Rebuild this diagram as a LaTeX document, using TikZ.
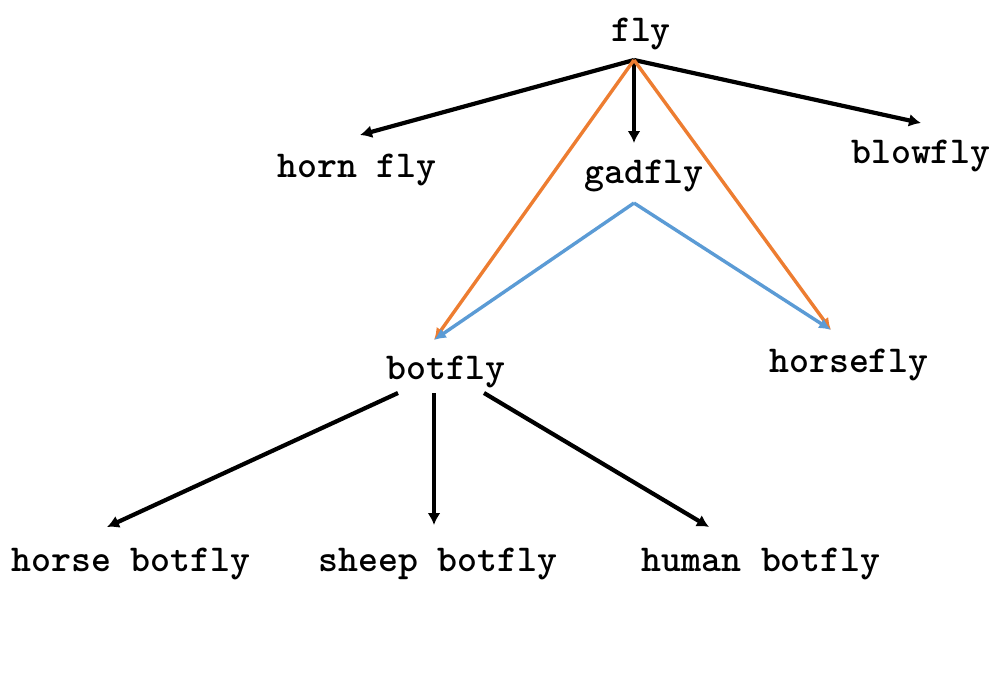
\documentclass[tikz,border=0pt]{standalone}
\usetikzlibrary{arrows.meta}
\definecolor{orangeC}{RGB}{237,125,49}
\definecolor{blueC}{RGB}{91,155,213}
\begin{document}
\begin{tikzpicture}[x=0.5pt,y=-0.5pt,
  lbl/.style={font=\fontsize{19}{22}\selectfont\ttfamily\bfseries, inner sep=0pt, anchor=center},
  blk/.style={line width=2.1pt, -{Latex[length=6pt,width=6.5pt]}},
  orng/.style={draw=orangeC, line width=1.7pt, -{Latex[length=6pt,width=5.5pt]}},
  blu/.style={draw=blueC, line width=1.7pt, -{Latex[length=6pt,width=5.5pt]}}]
\useasboundingbox (0,0) rectangle (1003,675);
% labels
\node[lbl] (fly) at (641,34) {fly};
\node[lbl] (hornfly) at (357,170) {horn fly};
\node[lbl] (gadfly) at (644,176) {gadfly};
\node[lbl] (blowfly) at (921,156) {blowfly};
\node[lbl] (botfly) at (446,372) {botfly};
\node[lbl] (horsefly) at (849,365) {horsefly};
\node[lbl] (horsebot) at (131,564) {horse botfly};
\node[lbl] (sheepbot) at (438,564) {sheep botfly};
\node[lbl] (humanbot) at (761,564) {human botfly};
% connector end points
\coordinate (flyS) at (634,60);
\coordinate (hornN) at (360,135);
\coordinate (gadN) at (634,143);
\coordinate (gadS) at (634,203);
\coordinate (blowN) at (921,123);
\coordinate (botN) at (434,340);
\coordinate (horseN) at (831,330);
\coordinate (botSW) at (398,393);
\coordinate (botS) at (434,393);
\coordinate (botSE) at (484,393);
\coordinate (hbN) at (107,527);
\coordinate (sbN) at (434,525);
\coordinate (hubN) at (709,527);
% connectors
\draw[blk] (flyS) -- (hornN);
\draw[blk] (flyS) -- (gadN);
\draw[blk] (flyS) -- (blowN);
\draw[orng] (flyS) -- (botN);
\draw[orng] (flyS) -- (horseN);
\draw[blu] (gadS) -- (botN);
\draw[blu] (gadS) -- (horseN);
\draw[blk] (botSW) -- (hbN);
\draw[blk] (botS) -- (sbN);
\draw[blk] (botSE) -- (hubN);
\end{tikzpicture}
\end{document}
